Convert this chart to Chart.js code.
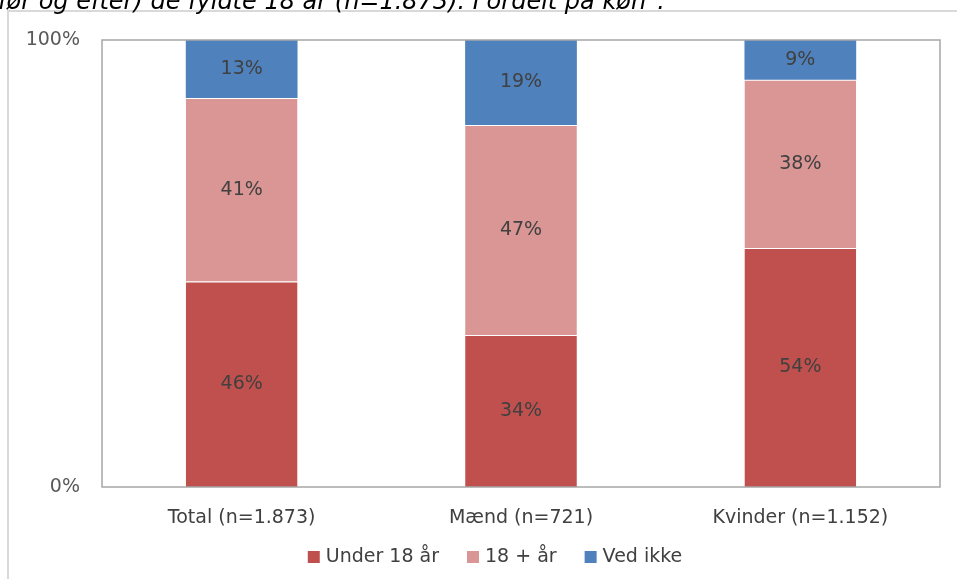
<!DOCTYPE html>
<html>
<head>
<meta charset="utf-8">
<script src="https://cdn.jsdelivr.net/npm/chart.js@4"></script>
<style>
  html, body { margin: 0; padding: 0; background: #fff; }
  #wrap { width: 957px; height: 579px; position: relative; }
</style>
</head>
<body>
<div id="wrap"><canvas id="kontaktChart" width="957" height="579"></canvas></div>
<script>
// data (procent pr. køn)
var categories = ['Total (n=1.873)', 'Mænd (n=721)', 'Kvinder (n=1.152)'];
var seriesNames = ['Under 18 år', '18 + år', 'Ved ikke'];
var under18 = [46, 34, 54];
var over18 = [41, 47, 38];
var vedIkke = [13, 19, 9];
var yTicks = [0, 100];

var FONT = '"DejaVu Sans", sans-serif';

// 100% stablet, som i Excel
var totals = categories.map((_, i) => under18[i] + over18[i] + vedIkke[i]);
function share(arr) { return arr.map((v, i) => v / totals[i] * 100); }

// kantlinjer og den afskårne overskrift
var framePlugin = {
    id: 'frame',
    beforeDraw(chart) {
        var c = chart.ctx;
        c.save();
        c.strokeStyle = '#d9d9d9';
        c.lineWidth = 2;
        c.beginPath();
        c.moveTo(8, 579);
        c.lineTo(8, 11);
        c.lineTo(957, 11);
        c.stroke();
        c.fillStyle = '#000';
        c.font = 'italic 24px ' + FONT;
        c.textBaseline = 'alphabetic';
        c.fillText('før og efter) de fyldte 18 år (n=1.873). Fordelt på køn".', -2, 9);
        c.restore();
    },
    afterDraw(chart) {
        var a = chart.chartArea, c = chart.ctx;
        c.save();
        c.strokeStyle = '#a6a6a6';
        c.lineWidth = 1.5;
        c.strokeRect(a.left, a.top, a.right - a.left, a.bottom - a.top);
        c.restore();
    }
};

// procenttal midt i hver søjle
var labelPlugin = {
    id: 'barLabels',
    afterDatasetsDraw(chart) {
        var c = chart.ctx;
        c.save();
        c.fillStyle = '#404040';
        c.font = '19px ' + FONT;
        c.textAlign = 'center';
        c.textBaseline = 'middle';
        chart.data.datasets.forEach((ds, di) => {
            chart.getDatasetMeta(di).data.forEach((bar, i) => {
                var p = bar.getCenterPoint();
                c.fillText(ds.raw[i] + '%', p.x, p.y);
            });
        });
        c.restore();
    }
};

// forklaring i bunden, centreret som i Excel
var legendPlugin = {
    id: 'bundLegend',
    afterDraw(chart) {
        var c = chart.ctx, box = 12, gap = 6, space = 28, cy = 557, cx = 495;
        c.save();
        c.font = '19px ' + FONT;
        c.textBaseline = 'middle';
        var items = chart.data.datasets.map(ds => ({ text: ds.label, color: ds.backgroundColor, w: c.measureText(ds.label).width }));
        var total = items.reduce((s, it) => s + box + gap + it.w, 0) + space * (items.length - 1);
        var x = cx - total / 2;
        items.forEach(it => {
            c.fillStyle = it.color;
            c.fillRect(x, cy - box / 2, box, box);
            c.fillStyle = '#404040';
            c.fillText(it.text, x + box + gap, cy);
            x += box + gap + it.w + space;
        });
        c.restore();
    }
};

var ctx = document.getElementById('kontaktChart').getContext('2d');
var chart = new Chart(ctx, {
    type: 'bar',
    data: {
        labels: categories,
        datasets: [
            { label: seriesNames[0], data: share(under18), raw: under18, backgroundColor: '#c0504d', borderColor: 'rgba(255,255,255,0.35)', borderWidth: { top: 1 } },
            { label: seriesNames[1], data: share(over18), raw: over18, backgroundColor: '#d99694', borderColor: 'rgba(255,255,255,0.35)', borderWidth: { top: 1 } },
            { label: seriesNames[2], data: share(vedIkke), raw: vedIkke, backgroundColor: '#4f81bd' }
        ]
    },
    options: {
        responsive: false,
        animation: false,
        layout: { padding: { top: 40, left: 0, right: 17, bottom: 42 } },
        datasets: { bar: { barPercentage: 0.4, categoryPercentage: 1.0 } },
        plugins: {
            tooltip: { enabled: false },
            legend: { display: false }
        },
        scales: {
            x: {
                stacked: true,
                grid: { display: false, drawTicks: false },
                border: { display: false },
                ticks: { color: '#404040', font: { family: FONT, size: 19 }, padding: 20 },
                afterFit(s) { s.height = 50; }
            },
            y: {
                stacked: true,
                min: 0,
                max: 100,
                grid: { display: false, drawTicks: false },
                border: { display: false },
                afterBuildTicks(s) { s.ticks = yTicks.map(v => ({ value: v })); },
                ticks: {
                    color: '#595959',
                    font: { family: FONT, size: 19 },
                    padding: 22,
                    callback: v => v + '%'
                },
                afterFit(s) { s.width = 102; }
            }
        }
    },
    plugins: [framePlugin, labelPlugin, legendPlugin]
});
</script>
</body>
</html>
